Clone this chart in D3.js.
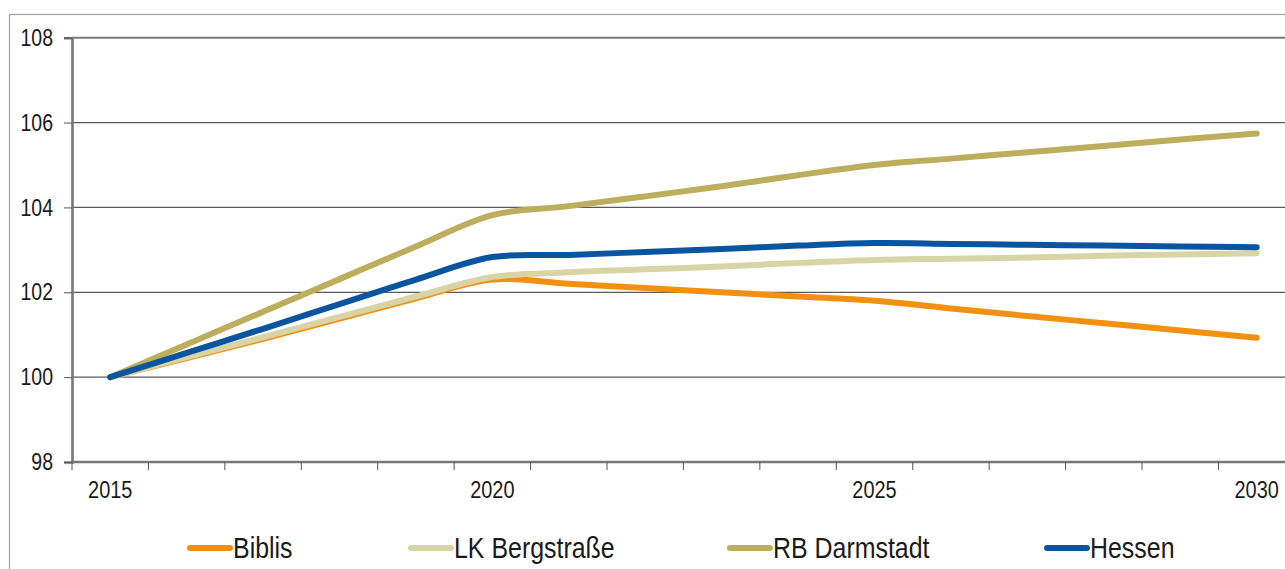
<!DOCTYPE html>
<html>
<head>
<meta charset="utf-8">
<script src="https://cdn.jsdelivr.net/npm/d3@7"></script>
<style>
  html, body { margin: 0; padding: 0; background: #fff; }
  svg { display: block; }
  text { font-family: "Liberation Sans", Arial, sans-serif; fill: #1a1a1a; }
</style>
</head>
<body>
<svg id="chart" width="1285" height="569"></svg>
<script>
// Bevölkerungsentwicklung, Index 2015 = 100
const years = [2015, 2016, 2017, 2018, 2019, 2020, 2021, 2022, 2023, 2024, 2025, 2026, 2027, 2028, 2029, 2030];
const xTickLabels = [2015, 2020, 2025, 2030];
const yTicks = [98, 100, 102, 104, 106, 108];

const seriesNames = ["Biblis", "LK Bergstraße", "RB Darmstadt", "Hessen"];
const biblis      = [100, 100.45, 100.9, 101.38, 101.86, 102.3, 102.2, 102.1, 102.0, 101.9, 101.8, 101.62, 101.44, 101.27, 101.1, 100.93];
const bergstrasse = [100, 100.47, 100.94, 101.42, 101.9, 102.36, 102.47, 102.54, 102.61, 102.69, 102.76, 102.79, 102.82, 102.86, 102.89, 102.92];
const darmstadt   = [100, 100.77, 101.54, 102.31, 103.08, 103.82, 104.03, 104.26, 104.5, 104.76, 105.0, 105.15, 105.3, 105.45, 105.6, 105.74];
const hessen      = [100, 100.57, 101.14, 101.72, 102.3, 102.83, 102.88, 102.95, 103.02, 103.1, 103.16, 103.14, 103.12, 103.1, 103.08, 103.06];
const seriesColors = ["#f29111", "#d9d4a6", "#bcae5c", "#0a559f"];

const series = seriesNames.map((name, i) => ({
  name,
  color: seriesColors[i],
  values: [biblis, bergstrasse, darmstadt, hessen][i]
}));

const svg = d3.select("#chart");
const squeeze = 0.83;        // condensed look for axis labels
const legendSqueeze = 0.86;  // condensed look for legend labels

// outer frame
svg.append("rect")
  .attr("x", 9.5).attr("y", 14.5)
  .attr("width", 1400).attr("height", 700)
  .attr("fill", "none").attr("stroke", "#a0a0a0").attr("stroke-width", 1.2);

const plot = { left: 72, top: 37.7, bottom: 462, band: 76.43 };

const x = d3.scaleBand()
  .domain(years)
  .range([plot.left, plot.left + plot.band * years.length])
  .paddingInner(0).paddingOuter(0);

const y = d3.scaleLinear()
  .domain([98, 108])
  .range([plot.bottom, plot.top]);

const cx = d => x(d) + x.bandwidth() / 2;

// horizontal grid
svg.append("g")
  .selectAll("line")
  .data(yTicks.filter(t => t > 98))
  .join("line")
  .attr("x1", plot.left).attr("x2", 1285)
  .attr("y1", d => y(d)).attr("y2", d => y(d))
  .attr("stroke", d => d === 108 ? "#7a7a7a" : "#5a5a5a")
  .attr("stroke-width", d => d === 108 ? 2 : 1.2);

// y axis
const yAxis = d3.axisLeft(y).tickValues(yTicks).tickSize(8).tickFormat(() => "");
const gy = svg.append("g").attr("transform", `translate(${plot.left},0)`).call(yAxis);
gy.select(".domain").attr("stroke", "#777").attr("stroke-width", 2.6);
gy.selectAll(".tick line").attr("stroke", "#555").attr("stroke-width", 1);
gy.selectAll(".tick text").remove();

svg.append("g")
  .selectAll("text")
  .data(yTicks)
  .join("text")
  .attr("transform", d => `translate(53,${y(d)}) scale(${squeeze},1)`)
  .attr("text-anchor", "end")
  .attr("dominant-baseline", "central")
  .attr("font-size", 23.5)
  .text(d => d);

// x axis (category axis, ticks between categories)
const xBoundaries = years.map(d => x(d)).concat([x(years[years.length - 1]) + x.bandwidth()]);
const gx = svg.append("g");
gx.append("line")
  .attr("x1", plot.left).attr("x2", 1285)
  .attr("y1", plot.bottom).attr("y2", plot.bottom)
  .attr("stroke", "#777").attr("stroke-width", 2.6);
gx.selectAll("line.tick")
  .data(xBoundaries)
  .join("line")
  .attr("class", "tick")
  .attr("x1", d => d).attr("x2", d => d)
  .attr("y1", plot.bottom).attr("y2", plot.bottom + 8)
  .attr("stroke", "#555").attr("stroke-width", 1);
gx.selectAll("text")
  .data(xTickLabels)
  .join("text")
  .attr("transform", d => `translate(${cx(d)},490) scale(${squeeze},1)`)
  .attr("text-anchor", "middle")
  .attr("dominant-baseline", "central")
  .attr("font-size", 24)
  .text(d => d);

// lines
const line = d3.line()
  .x((d, i) => cx(years[i]))
  .y(d => y(d))
  .curve(d3.curveCatmullRom.alpha(0.5));

svg.append("g")
  .selectAll("path")
  .data(series)
  .join("path")
  .attr("d", d => line(d.values))
  .attr("fill", "none")
  .attr("stroke", d => d.color)
  .attr("stroke-width", 6)
  .attr("stroke-linecap", "round")
  .attr("stroke-linejoin", "round");

// legend
const legendX = [187, 408, 727, 1044];
const legendY = 548;
const lg = svg.append("g")
  .selectAll("g")
  .data(series)
  .join("g")
  .attr("transform", (d, i) => `translate(${legendX[i]},${legendY})`);
lg.append("line")
  .attr("x1", 3).attr("x2", 43)
  .attr("stroke", d => d.color)
  .attr("stroke-width", 6)
  .attr("stroke-linecap", "round");
lg.append("text")
  .attr("transform", `translate(46,0) scale(${legendSqueeze},1)`)
  .attr("dominant-baseline", "central")
  .attr("font-size", 29)
  .text(d => d.name);
</script>
</body>
</html>
